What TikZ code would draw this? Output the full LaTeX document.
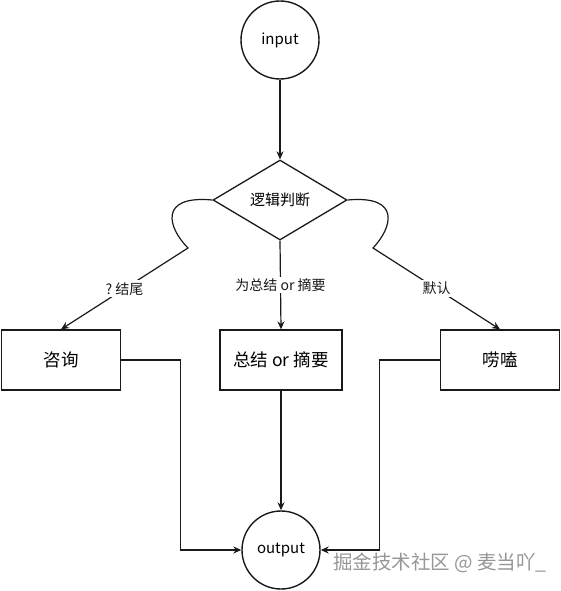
\documentclass[tikz,border=0pt]{standalone}
\usepackage{fontspec}
\setmainfont{Noto Sans CJK SC}
\usetikzlibrary{shapes.geometric, arrows.meta, positioning}
\definecolor{mydark}{RGB}{25,25,25}
\definecolor{mymark}{RGB}{150,150,150}
\tikzset{
  term/.style={circle, draw=mydark, minimum size=78pt, inner sep=0pt,
    font=\fontsize{15}{17}\selectfont, line width=1.4pt},
  decide/.style={diamond, draw=mydark, minimum width=134pt, minimum height=80pt,
    inner sep=1pt, font=\fontsize{15}{17}\selectfont, line width=1.3pt},
  stepbox/.style={rectangle, draw=mydark, minimum width=119pt, minimum height=60pt,
    font=\fontsize{17.5}{19}\selectfont, line width=1.3pt},
  tag/.style={fill=white, inner sep=2pt, font=\fontsize{14}{16}\selectfont},
  arrow/.style={-{Stealth[length=8pt, width=7pt]}, line width=1.2pt, color=mydark},
  credittext/.style={text=mymark, font=\fontsize{19.5}{21}\selectfont}
}
\begin{document}
\begin{tikzpicture}[x=1pt, y=-1pt]
  \useasboundingbox (0,0) rectangle (561,591);
  \node[term] (input) at (280,40) {input};
  \node[decide] (logic) at (280,200) {逻辑判断};
  \node[stepbox] (ask) at (61,360) {咨询};
  \node[stepbox, minimum width=122pt] (summ) at (281,360) {总结 or 摘要};
  \node[stepbox] (chat) at (500,360) {唠嗑};
  \node[term] (output) at (281,550) {output};

  \draw[arrow] (input) -- (logic);
  \draw[arrow] (logic.west) .. controls (158,195) and (168,228) .. (188,248)
    -- node[tag] {?\ 结尾} (ask.north);
  \draw[arrow] (logic.south) -- node[tag] {为总结 or 摘要} (summ.north);
  \draw[arrow] (logic.east) .. controls (402,195) and (392,228) .. (373,248)
    -- node[tag] {默认} (chat.north);

  \draw[arrow] (ask.east) -- ++(59,0) |- (output.west);
  \draw[arrow] (summ) -- (output);
  \draw[arrow] (chat.west) -- ++(-60,0) |- (output.east);

  \node[credittext] (credit) at (440,563) {掘金技术社区 @ 麦当吖\_};
\end{tikzpicture}
\end{document}
